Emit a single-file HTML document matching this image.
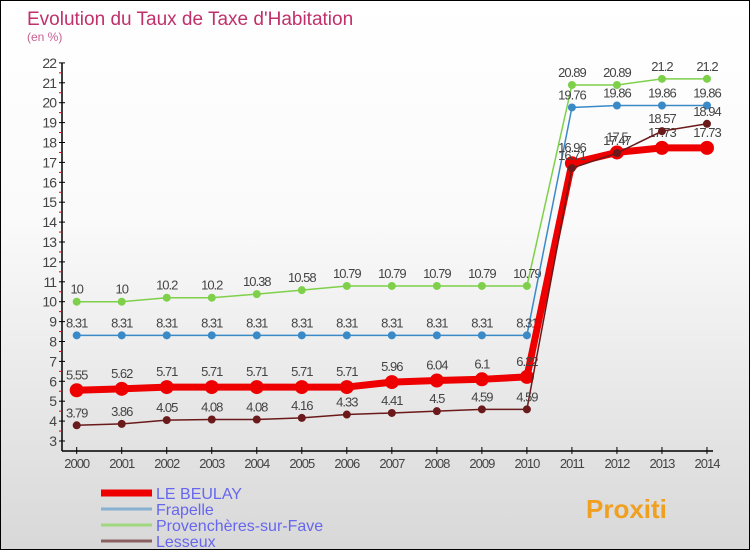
<!DOCTYPE html>
<html><head><meta charset="utf-8"><style>
body{margin:0}
#c{position:relative;width:748px;height:548px;border:1px solid #000;background:linear-gradient(#fff,#fafafa 40%,#d8d8d8);overflow:hidden;font-family:"Liberation Sans",sans-serif}
svg text{font-family:"Liberation Sans",sans-serif}
</style></head><body>
<div id="c">
<svg id="s" width="748" height="548">
<text x="26" y="24" font-size="19" fill="#c0306a">Evolution du Taux de Taxe d'Habitation</text>
<text x="26" y="40" font-size="12" fill="#c86090">(en %)</text>
</svg>
</div>
<script>
const years=[2000,2001,2002,2003,2004,2005,2006,2007,2008,2009,2010,2011,2012,2013,2014];
const beulay=[5.55,5.62,5.71,5.71,5.71,5.71,5.71,5.96,6.04,6.1,6.22,16.96,17.5,17.73,17.73];
const frapelle=[8.31,8.31,8.31,8.31,8.31,8.31,8.31,8.31,8.31,8.31,8.31,19.76,19.86,19.86,19.86];
const proven=[10,10,10.2,10.2,10.38,10.58,10.79,10.79,10.79,10.79,10.79,20.89,20.89,21.2,21.2];
const lesseux=[3.79,3.86,4.05,4.08,4.08,4.16,4.33,4.41,4.5,4.59,4.59,16.71,17.47,18.57,18.94];
const yTicks=[3,4,5,6,7,8,9,10,11,12,13,14,15,16,17,18,19,20,21,22];
const s=document.getElementById('s');const NS='http://www.w3.org/2000/svg';
const X=i=>75.7+i*45.02, Y=v=>440-(v-3)*19.9;
function mk(t,a,p){const e=document.createElementNS(NS,t);for(const k in a)e.setAttribute(k,a[k]);(p||s).appendChild(e);return e;}
const ax=mk('g',{});


mk('line',{x1:61,y1:Y(22),x2:61,y2:450,stroke:'#000','stroke-width':1.5},ax);
mk('line',{x1:61,y1:450,x2:712,y2:450,stroke:'#000','stroke-width':1.5},ax);
yTicks.forEach(v=>{mk('line',{x1:58,x2:64,y1:Y(v),y2:Y(v),stroke:'#000'},ax);
 if(v<22)mk('line',{x1:58,x2:61,y1:Y(v+.5),y2:Y(v+.5),stroke:'#e00'},ax);
 const t=mk('text',{x:55,y:Y(v)+5,'text-anchor':'end','font-size':14,fill:'#444','letter-spacing':'-1'},ax);t.textContent=v;
 
 });
years.forEach((y,i)=>{mk('line',{x1:X(i),x2:X(i),y1:446,y2:453,stroke:'#000'},ax);
 const t=mk('text',{x:X(i),y:467,'text-anchor':'middle','font-size':13,fill:'#444','letter-spacing':'-1'},ax);t.textContent=y;
 
 });
function series(d,col,w,r,name,labDy){
 const g=mk('g',{});
 
 
 mk('polyline',{points:d.map((v,i)=>X(i)+','+Y(v)).join(' '),fill:'none',stroke:col,'stroke-width':w,'stroke-linejoin':'round'},g);
 d.forEach((v,i)=>{const c=mk('circle',{cx:X(i),cy:Y(v),r:r,fill:col},g);
  
  
  const t=mk('text',{x:X(i),y:Y(v)+labDy,'text-anchor':'middle','font-size':13,fill:'#444','letter-spacing':'-1'},g);t.textContent=String(v);
  
  });
}
series(proven,'#7ed04a',1.5,4,'series-provencheres',-8);
series(frapelle,'#3a8ac8',1.5,4,'series-frapelle',-8);
series(beulay,'#ee0000',7,7,'series-le-beulay',-11);
series(lesseux,'#6a1a1a',1.5,4,'series-lesseux',-8);
const lg=[['LE BEULAY','#ee0000',7],['Frapelle','#88b0d0',3],['Provenchères-sur-Fave','#a0d880',3],['Lesseux','#8a6060',3]];
lg.forEach((e,i)=>{const y=492+i*16;const g=mk('g',{});
 
 
 mk('line',{x1:100,x2:151,y1:y,y2:y,stroke:e[1],'stroke-width':e[2]},g);
 const t=mk('text',{x:155,y:y+6,'font-size':16,fill:'#6666ee'},g);t.textContent=e[0];});
const b=mk('text',{x:585,y:517,'font-size':26,'font-weight':'bold',fill:'#f0a020'});b.textContent='Proxiti';


</script>
</body></html>
